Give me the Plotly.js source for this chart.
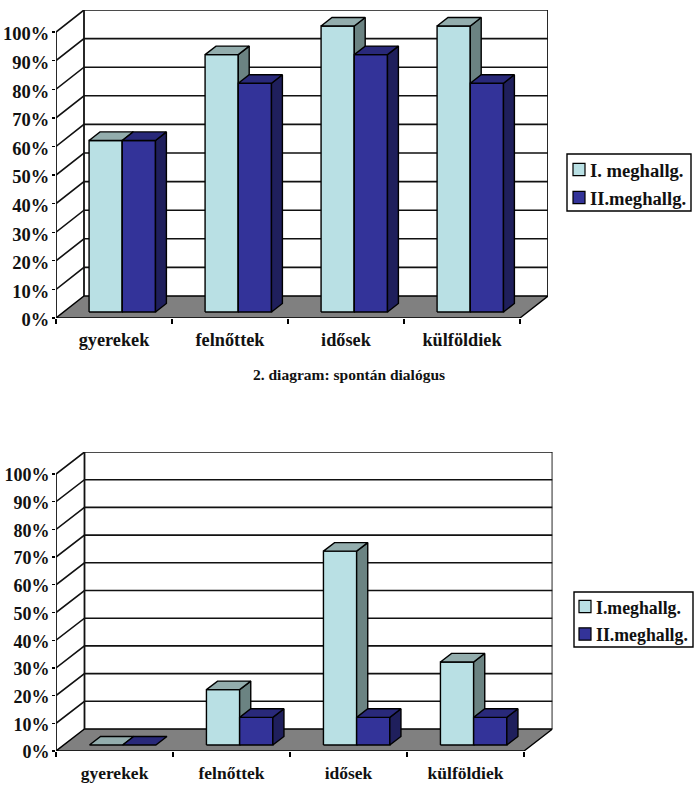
<!DOCTYPE html>
<html><head><meta charset="utf-8">
<script src="https://cdn.plot.ly/plotly-3.0.1.min.js"></script>
<style>html,body{margin:0;padding:0;background:#fff}</style></head>
<body><div id="chart" style="width:700px;height:799px"></div>
<script>
// ---- data ----
const categories = ['gyerekek','felnőttek','idősek','külföldiek'];
const percentTicks = [0,10,20,30,40,50,60,70,80,90,100];
const chart1First  = [60,90,100,100];
const chart1Second = [60,80,90,80];
const chart2First  = [0,20,70,30];
const chart2Second = [0,10,10,10];
const chart1Legend = ['I. meghallg.','II.meghallg.'];
const chart2Legend = ['I.meghallg.','II.meghallg.'];
const caption = '2. diagram: spontán dialógus';

// ---- styling ----
const W=700,H=799;
const FONT='"Liberation Serif","Times New Roman",serif';
const BOLD=t=>'<b>'+t+'</b>';
const colors=[{front:'#B9E0E4',top:'#93ADAD',side:'#6B8382'},{front:'#333399',top:'#29297A',side:'#1F1F5C'}];
const LW=1.4;

const traces=[];
function poly(xa,ya,xs,ys,fill,lw){
  traces.push({type:'scatter',mode:'lines',xaxis:xa,yaxis:ya,x:xs.concat(xs[0]),y:ys.concat(ys[0]),
    fill:'toself',fillcolor:fill,line:{color:'#000',width:lw||LW},hoverinfo:'skip',showlegend:false,cliponaxis:false});
}
function path(xa,ya,xs,ys,lw,color){
  traces.push({type:'scatter',mode:'lines',xaxis:xa,yaxis:ya,x:xs,y:ys,connectgaps:false,
    line:{color:color||'#111',width:lw||1.6},hoverinfo:'skip',showlegend:false,cliponaxis:false});
}
function drawChart(xa,ya,a,b,g){
  const n=categories.length,dx=g.dx,dy=g.dy;
  // floor
  poly(xa,ya,[0,n,n+dx,dx],[0,0,dy,dy],'#808080');
  // wall gridlines
  const gx=[],gy=[];
  percentTicks.filter(v=>v>0).forEach(v=>{
    gx.push(0,dx,n+dx,null); gy.push(v,v+dy,v+dy,null);
  });
  path(xa,ya,gx,gy);
  path(xa,ya,[0,0,null,dx,dx,null,n+dx,n+dx],[0,100,null,dy,100+dy,null,dy,100+dy],1.8);
  // bars
  const d0=g.d0,d1=g.d1,bw=g.bw,off=g.off;
  categories.forEach((c,i)=>{
    [a[i],b[i]].forEach((v,s)=>{
      const L=i+off+s*bw,R=L+bw,c_=colors[s];
      const X=(u,d)=>u+d*dx, Y=(val,d)=>val+d*dy;
      if(v>0){
        poly(xa,ya,[X(L,d0),X(R,d0),X(R,d0),X(L,d0)],[Y(0,d0),Y(0,d0),Y(v,d0),Y(v,d0)],c_.front);
        poly(xa,ya,[X(R,d0),X(R,d1),X(R,d1),X(R,d0)],[Y(0,d0),Y(0,d1),Y(v,d1),Y(v,d0)],c_.side);
      }
      poly(xa,ya,[X(L,d0),X(R,d0),X(R,d1),X(L,d1)],[Y(v,d0),Y(v,d0),Y(v,d1),Y(v,d1)],c_.top);
    });
  });
}
const g1={left:56,right:548,bottom:318,top:10,y100:32,front:520};
const g2={left:56,right:552.5,bottom:751,top:452,y100:474,front:524};
function scale(g){
  const n=categories.length,cw=(g.front-g.left)/n,pp=(g.bottom-g.y100)/100;
  return {cw,pp,dx:(g.right-g.front)/cw,dy:(g.y100-g.top)/pp,
    xr:[0,(g.right-g.left)/cw],yr:[0,(g.bottom-g.top)/pp],
    d0:0.27,d1:0.66,bw:33.2/cw,off:0.22};
}
const s1=scale(g1),s2=scale(g2);
drawChart('x','y',chart1First,chart1Second,s1);
drawChart('x2','y2',chart2First,chart2Second,s2);

function xAxis(g,s,anchor,standoff,fs){
  return {domain:[g.left/W,g.right/W],range:s.xr,anchor,showgrid:false,zeroline:false,showline:false,
    tickmode:'array',tickvals:categories.map((c,i)=>i+0.5),ticktext:categories.map(BOLD),ticks:'',
    ticklabelstandoff:standoff,
    minor:{tickmode:'array',tickvals:[0,1,2,3,4],ticks:'outside',ticklen:5,tickwidth:1.3,tickcolor:'#000',showgrid:false},
    tickfont:{family:FONT,size:fs,color:'#111'},fixedrange:true};
}
function yAxis(g,s,anchor,fs,shift){
  return {domain:[1-g.bottom/H,1-g.top/H],range:s.yr,anchor,showgrid:false,zeroline:false,showline:false,
    tickmode:'array',tickvals:percentTicks,ticktext:percentTicks.map(v=>BOLD(v+'%')),
    ticks:'outside',ticklen:3,tickwidth:1.4,tickcolor:'#000',ticklabelstandoff:-1,ticklabelshift:shift,
    tickfont:{family:FONT,size:fs,color:'#111'},fixedrange:true};
}
const shapes=[],annotations=[];
function px(x){return x/W} function py(y){return 1-y/H}
function legend(box,sw,labels,textX,fs){
  shapes.push({type:'rect',xref:'paper',yref:'paper',x0:px(box[0]),x1:px(box[1]),y0:py(box[2]),y1:py(box[3]),
    line:{color:'#000',width:1.4},fillcolor:'#fff'});
  labels.forEach((t,i)=>{
    const yc=sw.ys[i];
    shapes.push({type:'rect',xref:'paper',yref:'paper',x0:px(sw.x),x1:px(sw.x+12),y0:py(yc-6.2),y1:py(yc+6.2),
      line:{color:'#000',width:1.2},fillcolor:colors[i].front});
    annotations.push({xref:'paper',yref:'paper',x:px(textX),y:py(yc+1),xanchor:'left',yanchor:'middle',showarrow:false,
      text:BOLD(t),font:{family:FONT,size:fs,color:'#111'},borderpad:0});
  });
}
legend([567,691,154,211],{x:573,ys:[169.5,197.5]},chart1Legend,589,18.6);
legend([574,693,592,647],{x:579,ys:[606.5,634]},chart2Legend,595,17.8);
annotations.push({xref:'paper',yref:'paper',x:px(349),y:py(374),xanchor:'center',yanchor:'middle',showarrow:false,
  text:BOLD(caption),font:{family:FONT,size:15.5,color:'#111'}});

Plotly.newPlot('chart',traces,{
  width:W,height:H,autosize:false,margin:{l:0,r:0,t:0,b:0,pad:0},
  paper_bgcolor:'#fff',plot_bgcolor:'#fff',showlegend:false,
  xaxis:xAxis(g1,s1,'y',9,18.3),yaxis:yAxis(g1,s1,'x',18.5,2),
  xaxis2:xAxis(g2,s2,'y2',9,17.5),yaxis2:yAxis(g2,s2,'x2',18,1),
  shapes,annotations
},{displayModeBar:false,staticPlot:true});
</script></body></html>
